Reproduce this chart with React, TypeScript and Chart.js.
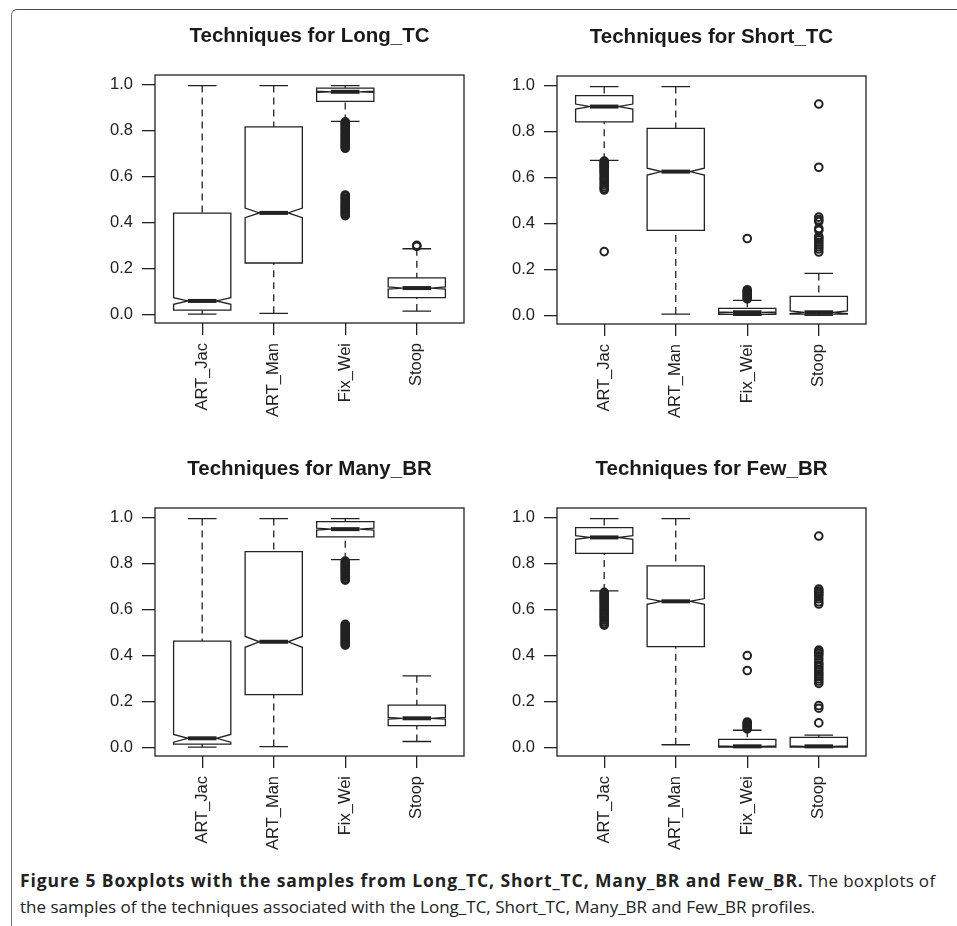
import React, { useEffect, useRef } from "react";
import { Chart, registerables } from "chart.js";
Chart.register(...registerables);

const categories = ["ART_Jac", "ART_Man", "Fix_Wei", "Stoop"];
const panelTitles = [
  "Techniques for Long_TC",
  "Techniques for Short_TC",
  "Techniques for Many_BR",
  "Techniques for Few_BR",
];
const yTickValues = [0, 0.2, 0.4, 0.6, 0.8, 1.0];

// each row: [lower whisker, Q1, median, Q3, upper whisker]
const longTC_box = [
  [0.003, 0.02, 0.06, 0.442, 0.997],
  [0.006, 0.225, 0.443, 0.817, 0.997],
  [0.841, 0.928, 0.97, 0.986, 0.997],
  [0.016, 0.074, 0.116, 0.16, 0.287],
];
const longTC_notch = [[0.045, 0.074], [0.422, 0.464], [0.967, 0.973], [0.111, 0.121]];
const longTC_outliers = [
  [],
  [],
  [0.839, 0.834, 0.829, 0.823, 0.818, 0.811, 0.806, 0.8, 0.793, 0.787, 0.781, 0.776, 0.77, 0.764, 0.757, 0.751, 0.746, 0.74, 0.735, 0.729, 0.724,
   0.521, 0.515, 0.508, 0.503, 0.497, 0.49, 0.484, 0.479, 0.472, 0.466, 0.461, 0.455, 0.449, 0.443, 0.437, 0.431],
  [0.298, 0.302],
];

const shortTC_box = [
  [0.676, 0.843, 0.91, 0.958, 0.997],
  [0.007, 0.371, 0.627, 0.815, 0.997],
  [0.002, 0.006, 0.015, 0.032, 0.067],
  [0.002, 0.007, 0.015, 0.084, 0.184],
];
const shortTC_notch = [[0.899, 0.921], [0.612, 0.642], [0.013, 0.017], [0.009, 0.021]];
const shortTC_outliers = [
  [0.673, 0.668, 0.663, 0.658, 0.653, 0.648, 0.643, 0.637, 0.632, 0.626, 0.62, 0.612, 0.603, 0.596, 0.588, 0.579, 0.57, 0.561, 0.553, 0.547, 0.279],
  [],
  [0.336, 0.113, 0.108, 0.103, 0.098, 0.093, 0.088, 0.083, 0.078, 0.073],
  [0.921, 0.646, 0.429, 0.418, 0.41, 0.38, 0.372, 0.345, 0.338, 0.33, 0.32, 0.31, 0.3, 0.29, 0.277],
];

const manyBR_box = [
  [0.003, 0.016, 0.041, 0.464, 0.997],
  [0.005, 0.231, 0.461, 0.853, 0.997],
  [0.818, 0.917, 0.951, 0.984, 0.997],
  [0.027, 0.096, 0.128, 0.185, 0.313],
];
const manyBR_notch = [[0.024, 0.058], [0.437, 0.484], [0.947, 0.955], [0.124, 0.132]];
const manyBR_outliers = [
  [],
  [],
  [0.812, 0.806, 0.8, 0.794, 0.788, 0.782, 0.776, 0.77, 0.764, 0.757, 0.75, 0.743, 0.736, 0.729,
   0.537, 0.531, 0.525, 0.519, 0.513, 0.507, 0.5, 0.494, 0.488, 0.482, 0.476, 0.47, 0.464, 0.458, 0.452, 0.446],
  [],
];

const fewBR_box = [
  [0.682, 0.846, 0.915, 0.958, 0.997],
  [0.013, 0.44, 0.637, 0.791, 0.997],
  [0.002, 0.003, 0.006, 0.036, 0.076],
  [0.002, 0.003, 0.006, 0.045, 0.055],
];
const fewBR_notch = [[0.907, 0.923], [0.624, 0.649], [0.004, 0.008], [0.004, 0.008]];
const fewBR_outliers = [
  [0.676, 0.67, 0.664, 0.658, 0.652, 0.646, 0.64, 0.633, 0.626, 0.619, 0.611, 0.603, 0.596, 0.588, 0.58, 0.572, 0.564, 0.556, 0.548, 0.54, 0.533],
  [],
  [0.401, 0.336, 0.112, 0.107, 0.102, 0.097, 0.092, 0.087, 0.082],
  [0.921, 0.69, 0.682, 0.675, 0.668, 0.66, 0.648, 0.635, 0.625, 0.425, 0.418, 0.41, 0.4, 0.385, 0.37, 0.36, 0.35, 0.34, 0.33, 0.32, 0.31, 0.3, 0.29, 0.28, 0.183, 0.172, 0.108],
];

const panelBoxes = [longTC_box, shortTC_box, manyBR_box, fewBR_box];
const panelNotches = [longTC_notch, shortTC_notch, manyBR_notch, fewBR_notch];
const panelOutliers = [longTC_outliers, shortTC_outliers, manyBR_outliers, fewBR_outliers];

const INK = "#222";
const FONT = "'Liberation Sans', Arial, Helvetica, sans-serif";
const CW = 420;
const CH = 420;

function Panel({ idx, left, top }: { idx: number; left: number; top: number }) {
  const ref = useRef<HTMLCanvasElement>(null);
  useEffect(() => {
    const boxes = panelBoxes[idx];
    const notches = panelNotches[idx];
    const outliers = panelOutliers[idx];
    const title = panelTitles[idx];
    const pts: { x: number; y: number }[] = [];
    outliers.forEach((arr, i) => arr.forEach((v) => pts.push({ x: i + 1, y: v })));

    const boxPlugin = {
      id: "rbox",
      beforeDatasetsDraw(chart: any) {
        const { ctx, scales } = chart;
        const xs = scales.x;
        const ys = scales.y;
        const w = xs.getPixelForValue(1.4) - xs.getPixelForValue(1);
        ctx.save();
        ctx.strokeStyle = INK;
        boxes.forEach((b, i) => {
          const [lo, q1, med, q3, hi] = b;
          const [nlo, nhi] = notches[i];
          const cx = xs.getPixelForValue(i + 1);
          const Y = (v: number) => ys.getPixelForValue(v);
          ctx.lineWidth = 1.3;
          ctx.setLineDash([7, 5]);
          ctx.beginPath();
          ctx.moveTo(cx, Y(hi));
          ctx.lineTo(cx, Y(q3));
          ctx.moveTo(cx, Y(lo));
          ctx.lineTo(cx, Y(q1));
          ctx.stroke();
          ctx.setLineDash([]);
          ctx.beginPath();
          ctx.moveTo(cx - w / 2, Y(hi));
          ctx.lineTo(cx + w / 2, Y(hi));
          ctx.moveTo(cx - w / 2, Y(lo));
          ctx.lineTo(cx + w / 2, Y(lo));
          ctx.stroke();
          ctx.beginPath();
          ctx.moveTo(cx - w, Y(q1));
          ctx.lineTo(cx - w, Y(nlo));
          ctx.lineTo(cx - w / 2, Y(med));
          ctx.lineTo(cx - w, Y(nhi));
          ctx.lineTo(cx - w, Y(q3));
          ctx.lineTo(cx + w, Y(q3));
          ctx.lineTo(cx + w, Y(nhi));
          ctx.lineTo(cx + w / 2, Y(med));
          ctx.lineTo(cx + w, Y(nlo));
          ctx.lineTo(cx + w, Y(q1));
          ctx.closePath();
          ctx.stroke();
          ctx.lineWidth = 4;
          ctx.beginPath();
          ctx.moveTo(cx - w / 2, Y(med));
          ctx.lineTo(cx + w / 2, Y(med));
          ctx.stroke();
        });
        ctx.restore();
      },
      afterDraw(chart: any) {
        const { ctx, chartArea } = chart;
        ctx.save();
        ctx.strokeStyle = INK;
        ctx.lineWidth = 1.3;
        ctx.strokeRect(chartArea.left, chartArea.top, chartArea.right - chartArea.left, chartArea.bottom - chartArea.top);
        ctx.fillStyle = "#1a1a1a";
        ctx.font = `bold 20.5px ${FONT}`;
        ctx.textAlign = "center";
        ctx.textBaseline = "alphabetic";
        ctx.fillText(title, (chartArea.left + chartArea.right) / 2, chartArea.top - 33.5);
        ctx.restore();
      },
    };

    const chart = new Chart(ref.current as HTMLCanvasElement, {
      type: "scatter",
      data: {
        datasets: [
          {
            data: pts,
            pointStyle: "circle",
            pointRadius: 3.8,
            pointBorderWidth: 2,
            pointBorderColor: INK,
            pointBackgroundColor: "rgba(0,0,0,0)",
          },
        ],
      },
      options: {
        animation: false,
        responsive: false,
        devicePixelRatio: 1,
        events: [],
        layout: { padding: { left: 0, top: 65, right: CW - 80 - 309, bottom: CH - 65 - 248 - 100 } },
        plugins: { legend: { display: false }, tooltip: { enabled: false }, title: { display: false } },
        scales: {
          x: {
            type: "linear",
            min: 0.34,
            max: 4.66,
            afterBuildTicks: (s: any) => {
              s.ticks = categories.map((_, i) => ({ value: i + 1 }));
            },
            afterFit: (s: any) => {
              s.height = 100;
            },
            ticks: {
              autoSkip: false,
              maxRotation: 90,
              minRotation: 90,
              padding: 8,
              color: INK,
              font: { family: FONT, size: 16.5 },
              callback: (_v: any, i: number) => categories[i],
            },
            grid: { drawOnChartArea: false, drawTicks: true, tickLength: 12, color: INK, lineWidth: 1.3 },
            border: { display: false },
          },
          y: {
            type: "linear",
            min: -0.036,
            max: 1.043,
            afterBuildTicks: (s: any) => {
              s.ticks = yTickValues.map((v) => ({ value: v }));
            },
            afterFit: (s: any) => {
              s.width = 80;
            },
            ticks: {
              padding: 9,
              color: INK,
              font: { family: FONT, size: 16.5 },
              callback: (v: any) => Number(v).toFixed(1),
            },
            grid: { drawOnChartArea: false, drawTicks: true, tickLength: 13, color: INK, lineWidth: 1.3 },
            border: { display: false },
          },
        },
      },
      plugins: [boxPlugin],
    } as any);
    return () => chart.destroy();
  }, [idx]);
  return (
    <canvas
      ref={ref}
      width={CW}
      height={CH}
      style={{ position: "absolute", left, top, width: CW, height: CH }}
    />
  );
}

export default function App() {
  useEffect(() => {
    document.body.style.margin = "0";
  }, []);
  return (
    <div style={{ position: "absolute", left: 0, top: 0, width: 957, height: 926, overflow: "hidden", background: "#fff" }}>
      <div
        style={{
          position: "absolute",
          left: 11,
          top: 9,
          width: 1200,
          height: 1200,
          borderTop: "1.5px solid #4a4a4a",
          borderLeft: "1.5px solid #777",
          borderTopLeftRadius: 6,
        }}
      />
      <Panel idx={0} left={75} top={10} />
      <Panel idx={1} left={477} top={11} />
      <Panel idx={2} left={75} top={443} />
      <Panel idx={3} left={477} top={443} />
      <div
        style={{
          position: "absolute",
          left: 20,
          top: 867,
          whiteSpace: "nowrap",
          fontFamily: "'Open Sans', 'Noto Sans', sans-serif",
          fontSize: 17,
          lineHeight: "26px",
          color: "#222",
        }}
      >
        <b style={{ fontSize: 17.5, letterSpacing: "0.9px" }}>
          Figure 5 Boxplots with the samples from Long_TC, Short_TC, Many_BR and Few_BR.
        </b>{" "}
        <span style={{ letterSpacing: "0.3px" }}>The boxplots of</span>
        <br />
        the samples of the techniques associated with the Long_TC, Short_TC, Many_BR and Few_BR profiles.
      </div>
    </div>
  );
}
